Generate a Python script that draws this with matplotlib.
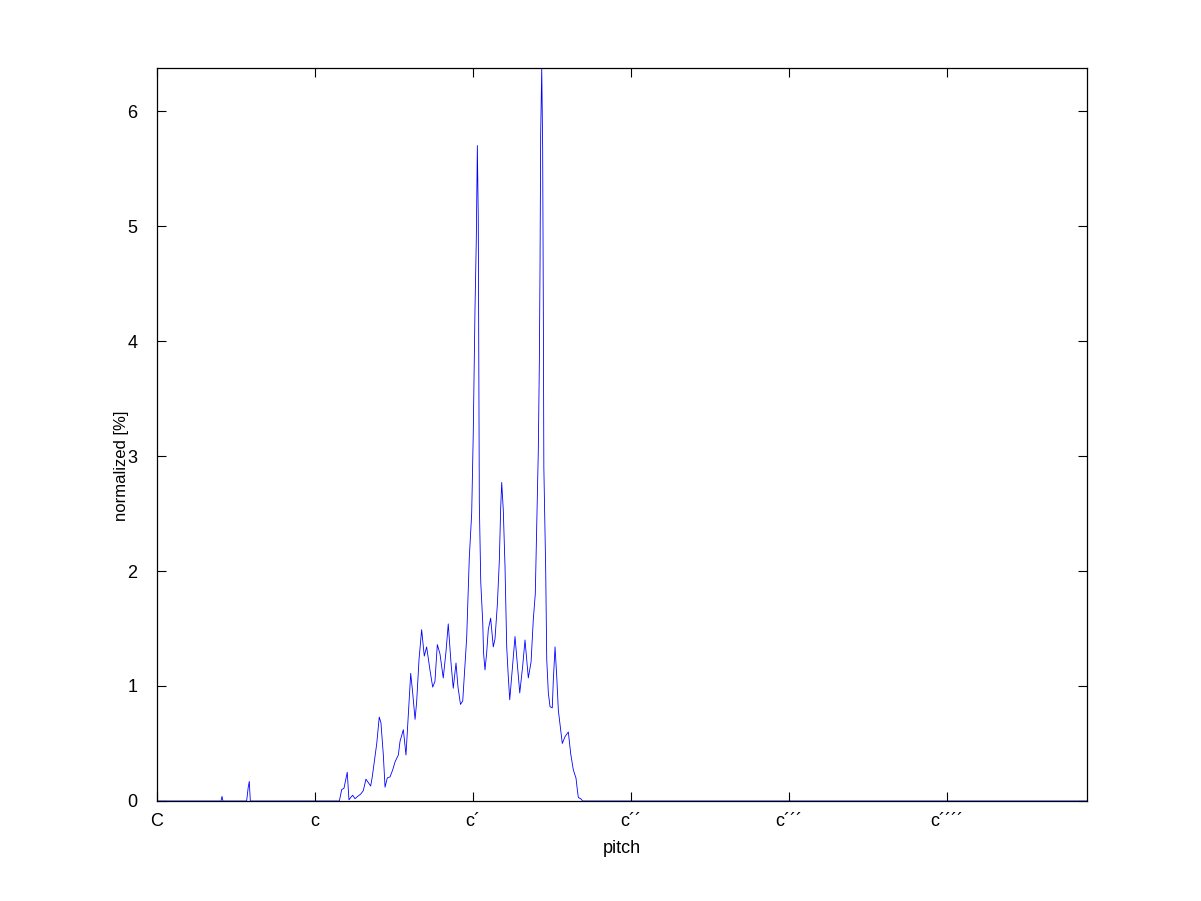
import matplotlib
matplotlib.use("Agg")
import matplotlib.pyplot as plt

plt.rcParams['font.family'] = ['Liberation Sans', 'DejaVu Sans']

# pitch in semitones above C, value in percent
pitch = [0.0, 4.86, 4.94, 5.01, 6.81, 6.93, 7.01, 7.09,
         13.85, 14.03, 14.20, 14.45, 14.58, 14.71, 14.86, 15.04, 15.24, 15.47,
         15.67, 15.87, 16.05, 16.23, 16.35, 16.50, 16.69, 16.88, 17.01, 17.19,
         17.32, 17.49, 17.70, 17.90, 18.08, 18.33, 18.46, 18.71, 18.91, 19.09,
         19.27, 19.42, 19.60, 19.72, 19.90, 20.10, 20.30, 20.48, 20.73, 20.94,
         21.11, 21.29, 21.49, 21.74, 21.95, 22.12, 22.33, 22.50, 22.71, 22.86,
         23.05, 23.22, 23.52, 23.72, 23.90, 24.02, 24.15, 24.25, 24.33, 24.40,
         24.48, 24.59, 24.74, 24.80, 24.91, 25.04, 25.16, 25.34, 25.54, 25.67,
         25.85, 26.00, 26.10, 26.18, 26.30, 26.43, 26.56, 26.68, 26.79, 27.00,
         27.19, 27.36, 27.55, 27.77, 27.95, 28.08, 28.20, 28.41, 28.58, 28.73,
         28.86, 28.96, 29.04, 29.09, 29.14, 29.22, 29.29, 29.34, 29.38, 29.52,
         29.60, 29.72, 29.85, 30.02, 30.10, 30.23, 30.36, 30.48, 30.66, 30.78,
         30.99, 31.24, 31.42, 31.62, 31.82, 31.92, 32.00, 32.18, 32.33, 70.6]
values = [0.0, 0.0, 0.04, 0.0, 0.0, 0.12, 0.17, 0.0,
          0.0, 0.10, 0.11, 0.25, 0.01, 0.03, 0.05, 0.02, 0.04, 0.06,
          0.09, 0.19, 0.16, 0.13, 0.21, 0.34, 0.50, 0.73, 0.68, 0.40,
          0.12, 0.20, 0.21, 0.27, 0.34, 0.40, 0.52, 0.62, 0.40, 0.76,
          1.11, 0.94, 0.71, 0.86, 1.23, 1.49, 1.26, 1.34, 1.14, 0.99,
          1.04, 1.36, 1.28, 1.07, 1.30, 1.54, 1.20, 0.98, 1.20, 0.99,
          0.84, 0.87, 1.42, 2.12, 2.50, 3.20, 4.27, 4.88, 5.70, 5.07,
          2.59, 1.90, 1.55, 1.29, 1.14, 1.29, 1.49, 1.59, 1.34, 1.41,
          1.71, 2.09, 2.54, 2.77, 2.53, 2.04, 1.34, 1.08, 0.88, 1.17,
          1.43, 1.20, 0.94, 1.17, 1.40, 1.23, 1.07, 1.21, 1.58, 1.80,
          2.53, 3.05, 3.83, 4.65, 5.81, 6.374, 5.68, 4.30, 2.90, 2.01,
          1.23, 0.94, 0.82, 0.81, 1.05, 1.34, 1.08, 0.79, 0.62, 0.50,
          0.56, 0.60, 0.41, 0.27, 0.20, 0.10, 0.03, 0.02, 0.0, 0.0]

tick_pos = [0, 12, 24, 36, 48, 60]
tick_labels = ['C', 'c', 'c\u00b4', 'c\u00b4\u00b4', 'c\u00b4\u00b4\u00b4', 'c\u00b4\u00b4\u00b4\u00b4']

fig = plt.figure(figsize=(12.01, 9.01), dpi=100)
ax = fig.add_axes([0.1307, 0.111, 0.7744, 0.8135])
ax.plot(pitch, values, color=(0, 0, 1), linewidth=0.6, zorder=1)

ax.set_xlim(0, 70.63)
ax.set_ylim(0, 6.374)
ax.set_xticks(tick_pos)
ax.set_xticklabels(tick_labels)
ax.set_yticks(range(0, 7))
ax.tick_params(direction='in', length=6.5, width=0.8, top=True, right=True,
               labelsize=13)
ax.tick_params(axis='x', pad=9)
ax.tick_params(axis='y', pad=14)
for s in ax.spines.values():
    s.set_linewidth(0.9)

ax.set_xlabel('pitch', fontsize=13, labelpad=7)
ax.set_ylabel('normalized [%]', fontsize=12)
ax.yaxis.set_label_coords(-0.030, 0.457)

fig.savefig('out.png', dpi=100)
